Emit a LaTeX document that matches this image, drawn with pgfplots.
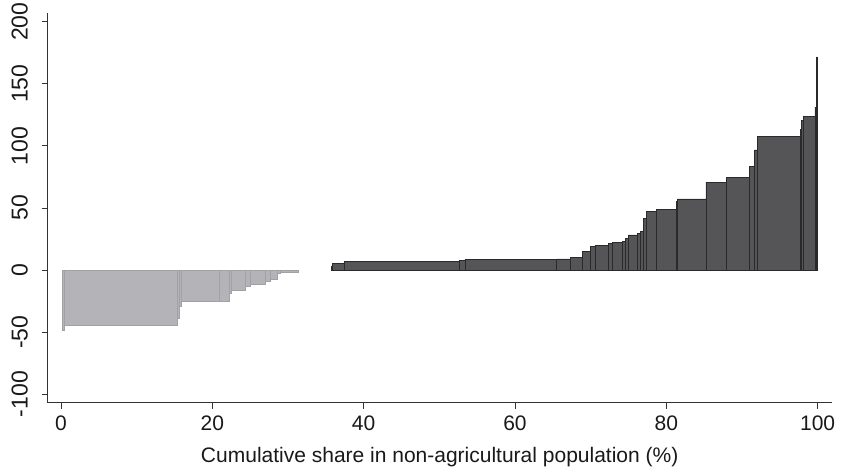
\documentclass[border=0pt]{standalone}
\usepackage{pgfplots}
\pgfplotsset{compat=1.18}
\usepackage{fontspec}
\setmainfont{Liberation Sans}
\definecolor{negfill}{HTML}{B4B4B8}
\definecolor{negdraw}{HTML}{A2A2A6}
\definecolor{posfill}{HTML}{555557}
\definecolor{posdraw}{HTML}{2A2A2A}
\definecolor{axcol}{HTML}{333333}
\begin{document}
\fontsize{20bp}{24bp}\selectfont
\begin{tikzpicture}
\begin{axis}[
  scale only axis,
  width=784bp, height=389.4bp,
  xmin=-1.75, xmax=101.86,
  ymin=-106.9, ymax=206.8,
  axis x line*=bottom, axis y line*=left,
  axis line style={axcol, line width=0.8pt, -},
  tick align=outside,
  major tick length=6bp,
  tick style={axcol, line width=0.8pt},
  xtick={0,20,...,100},
  ytick={-100,-50,...,200},
  /pgf/number format/assume math mode=true,
  xticklabel style={font=\fontsize{21bp}{25bp}\selectfont, text=black!90},
  yticklabel style={rotate=90, anchor=south, font=\fontsize{23bp}{27bp}\selectfont, text=black!90},
  yticklabel shift=7bp,
  xlabel={Cumulative share in non-agricultural population (\%)},
  xlabel style={font=\fontsize{21bp}{25bp}\selectfont, text=black!90, yshift=-3bp},
]
\addplot[ybar interval, fill=negfill, draw=negdraw, line width=0.5pt] coordinates {
(0.18,-48.3) (0.40,-44.3) (15.38,-38.9) (15.60,-29.5) (15.96,-25.5)
(20.89,-25.0) (22.21,-18.8) (22.56,-16.1) (24.32,-13.4) (25.08,-11.3)
(27.06,-9.4) (27.63,-7.5) (28.59,-2.7) (28.95,-2.2) (31.37,-2.2)
};
\addplot[ybar interval, fill=posfill, draw=posdraw, line width=0.5pt] coordinates {
(35.69,2.7) (35.86,5.4) (37.40,6.7) (52.60,7.5) (53.39,8.6)
(65.51,8.9) (67.36,10.2) (68.95,15.3) (70.01,18.8) (70.57,20.1)
(72.33,21.5) (72.91,22.0) (74.24,22.8) (74.63,25.5) (74.98,28.2)
(76.17,29.5) (76.62,30.9) (76.96,41.6) (77.41,47.5) (78.64,48.9)
(81.37,55.0) (81.45,57.2) (85.24,70.7) (87.98,74.4) (90.97,83.2)
(91.63,96.7) (92.02,107.4) (97.67,113.4) (97.89,120.3) (98.10,123.5)
(99.65,131.1) (99.85,171.6) (100.0,171.6)
};
\end{axis}
\pgfresetboundingbox
\path (-47.7bp,-68.3bp) rectangle (795.3bp,402.7bp);
\end{tikzpicture}
\end{document}
